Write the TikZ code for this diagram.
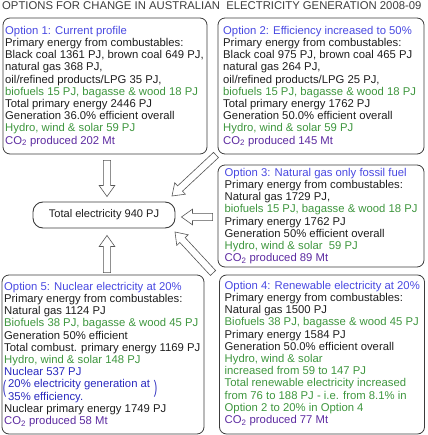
\documentclass[tikz,border=0pt]{standalone}
\usepackage{fontspec}
\usepackage{graphicx}
\setmainfont{Liberation Sans}
\usetikzlibrary{calc}
\definecolor{optblue}{RGB}{72,72,225}
\definecolor{nucblue}{RGB}{40,40,190}
\definecolor{grn}{RGB}{62,150,62}
\definecolor{purp}{RGB}{92,42,160}
\definecolor{bodytext}{RGB}{30,30,30}
\definecolor{titlegray}{RGB}{60,60,60}
\definecolor{boxgray}{RGB}{60,60,60}
\definecolor{arrgray}{RGB}{85,85,85}
\newcommand{\drawblockarrow}[3]{%
  \coordinate (#1h) at ($(#3)!11pt!(#2)$);
  \draw[blockarr] ($(#2)!3.6pt!90:(#3)$) -- ($(#1h)!3.6pt!90:(#3)$) -- ($(#1h)!7.8pt!90:(#3)$)
    -- (#3) -- ($(#1h)!7.8pt!-90:(#3)$) -- ($(#1h)!3.6pt!-90:(#3)$) -- ($(#2)!3.6pt!-90:(#3)$) -- cycle;}
\newcommand{\cotwo}{CO\textsubscript{2}}
\begin{document}
\begin{tikzpicture}[x=1pt,y=-1pt,
  box/.style={draw=boxgray, line width=0.8pt, rounded corners=7pt, inner sep=0pt},
  txt/.style={anchor=north west, inner sep=0pt, align=left, font=\fontsize{11.3}{12.2}\selectfont, text=bodytext},
  paren/.style={inner sep=0pt, font=\fontsize{11.3}{12.2}\selectfont, text=nucblue},
  blockarr/.style={draw=arrgray, line width=0.6pt, fill=white, line join=miter}]
\useasboundingbox (0,0) rectangle (427,435);

\node[anchor=base west, inner sep=0pt, font=\fontsize{11.3}{13}\selectfont, text=titlegray] (title) at (2,10)
  {OPTIONS FOR CHANGE IN AUSTRALIAN \ ELECTRICITY GENERATION 2008-09};

% boxes
\node[box, minimum width=204pt, minimum height=136pt] (b1) at (105,86) {};
\node[box, minimum width=206pt, minimum height=136pt] (b2) at (321,86) {};
\node[box, minimum width=206pt, minimum height=102pt] (b3) at (321,216) {};
\node[box, minimum width=205pt, minimum height=159pt] (b4) at (322,354.5) {};
\node[box, minimum width=202pt, minimum height=159pt] (b5) at (103,354.5) {};
\node[draw=boxgray, line width=0.9pt, rounded corners=10pt, minimum width=142pt, minimum height=26pt,
  inner sep=0pt, font=\fontsize{11.1}{12.2}\selectfont, text=bodytext] (tot) at (104,215) {Total electricity 940 PJ};

% texts
\node[txt] (t1) at (5,26) {\textcolor{optblue}{Option 1: Current profile}\\
Primary energy from combustables:\\
Black coal 1361 PJ, brown coal 649 PJ,\\
natural gas 368 PJ,\\
oil/refined products/LPG 35 PJ,\\
\textcolor{grn}{biofuels 15 PJ, bagasse \& wood 18 PJ}\\
Total primary energy 2446 PJ\\
Generation 36.0\% efficient overall\\
\textcolor{grn}{Hydro, wind \& solar 59 PJ}\\
\textcolor{purp}{\cotwo{} produced 202 Mt}};

\node[txt] (t2) at (223,26) {\textcolor{optblue}{Option 2: Efficiency increased to 50\%}\\
Primary energy from combustables:\\
Black coal 975 PJ, brown coal 465 PJ\\
natural gas 264 PJ,\\
oil/refined products/LPG 25 PJ,\\
\textcolor{grn}{biofuels 15 PJ, bagasse \& wood 18 PJ}\\
Total primary energy 1762 PJ\\
Generation 50.0\% efficient overall\\
\textcolor{grn}{Hydro, wind \& solar 59 PJ}\\
\textcolor{purp}{\cotwo{} produced 145 Mt}};

\node[txt] (t3) at (224.5,168) {\textcolor{optblue}{Option 3: Natural gas only fossil fuel}\\
Primary energy from combustables:\\
Natural gas 1729 PJ,\\
\textcolor{grn}{biofuels 15 PJ, bagasse \& wood 18 PJ}\\
Primary energy 1762 PJ\\
Generation 50\% efficient overall\\
\textcolor{grn}{Hydro, wind \& solar \ 59 PJ}\\
\textcolor{purp}{\cotwo{} produced 89 Mt}};

\node[txt] (t4) at (224.5,281) {\textcolor{optblue}{Option 4: Renewable electricity at 20\%}\\
Primary energy from combustables:\\
Natural gas 1500 PJ\\
\textcolor{grn}{Biofuels 38 PJ, bagasse \& wood 45 PJ}\\
Primary energy 1584 PJ\\
Generation 50.0\% efficient overall\\
\textcolor{grn}{Hydro, wind \& solar}\\
\textcolor{grn}{increased from 59 to 147 PJ}\\
\textcolor{grn}{Total renewable electricity increased}\\
\textcolor{grn}{from 76 to 188 PJ - i.e. from 8.1\% in}\\
\textcolor{grn}{Option 2 to 20\% in Option 4}\\
\textcolor{purp}{\cotwo{} produced 77 Mt}};

\node[txt] (t5) at (4,282) {\textcolor{optblue}{Option 5: Nuclear electricity at 20\%}\\
Primary energy from combustables:\\
Natural gas 1124 PJ\\
\textcolor{grn}{Biofuels 38 PJ, bagasse \& wood 45 PJ}\\
Generation 50\% efficient\\
Total combust. primary energy 1169 PJ\\
\textcolor{grn}{Hydro, wind \& solar 148 PJ}\\
\textcolor{nucblue}{Nuclear 537 PJ}\\
\hspace*{4pt}\textcolor{nucblue}{20\% electricity generation at}\\
\hspace*{4pt}\textcolor{nucblue}{35\% efficiency.}\\
Nuclear primary energy 1749 PJ\\
\textcolor{purp}{\cotwo{} produced 58 Mt}};

\node[paren] (lpar) at (4.6,389) {\scalebox{0.9}[1.6]{(}};
\node[paren] (rpar) at (155.5,389) {\scalebox{0.9}[1.6]{)}};

% arrows
\coordinate (a1s) at ($(b1.south)+(2,6)$);
\coordinate (a1e) at ($(tot.north)+(3,-5)$);
\drawblockarrow{a1}{a1s}{a1e}

\coordinate (a2s) at (216,155);
\coordinate (a2e) at (172,196);
\drawblockarrow{a2}{a2s}{a2e}

\coordinate (a3s) at ($(b3.west)+(-5,1)$);
\coordinate (a3e) at ($(tot.east)+(6,2)$);
\drawblockarrow{a3}{a3s}{a3e}

\coordinate (a4s) at (213,273);
\coordinate (a4e) at (175,232);
\drawblockarrow{a4}{a4s}{a4e}

\coordinate (a5s) at ($(b5.north)+(4,-2)$);
\coordinate (a5e) at ($(tot.south)+(3,7)$);
\drawblockarrow{a5}{a5s}{a5e}
\end{tikzpicture}
\end{document}
